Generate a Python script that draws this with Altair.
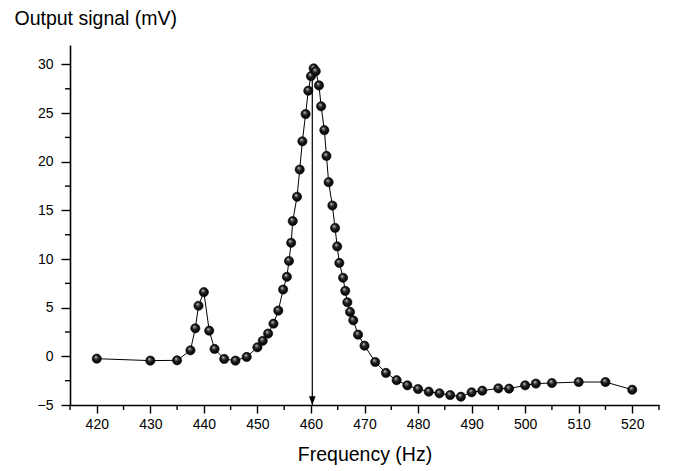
import altair as alt
import pandas as pd

freq = [420, 430, 435, 437.5, 438.4, 439, 440, 441, 442, 443.8,
        445.9, 448, 450, 451, 452, 453, 453.9, 454.8, 455.5, 455.9,
        456.3, 456.6, 457.4, 457.9, 458.4, 459, 459.5, 460, 460.5, 460.9,
        461.5, 461.9, 462.5, 462.9, 463.3, 464, 464.5, 464.9, 465.3, 466,
        466.4, 466.8, 467.3, 467.9, 468.8, 470, 472, 474, 476, 478,
        480, 482, 484, 486, 488, 490, 492, 495, 497, 500,
        502, 505, 510, 515, 520]
signal = [-0.24, -0.44, -0.41, 0.62, 2.88, 5.2, 6.6, 2.64, 0.76, -0.27,
          -0.44, -0.06, 0.93, 1.6, 2.34, 3.36, 4.7, 6.86, 8.17, 9.8,
          11.67, 13.9, 16.4, 19.2, 22.1, 24.9, 27.3, 28.8, 29.6, 29.3,
          27.85, 25.7, 23.25, 20.6, 17.9, 15.5, 13.2, 11.3, 9.6, 8.07,
          6.73, 5.56, 4.57, 3.7, 2.23, 1.1, -0.58, -1.7, -2.45, -2.98,
          -3.36, -3.63, -3.8, -3.98, -4.15, -3.7, -3.53, -3.29, -3.32, -2.98,
          -2.8, -2.74, -2.64, -2.64, -3.43]

arrow_x = [460.25]
arrow_top = [29.6]
arrow_bottom = [-5]

x_major = [420, 430, 440, 450, 460, 470, 480, 490, 500, 510, 520]
x_minor = [415, 425, 435, 445, 455, 465, 475, 485, 495, 505, 515, 525]
y_major = [-5, 0, 5, 10, 15, 20, 25, 30]
y_minor = [-2.5, 2.5, 7.5, 12.5, 17.5, 22.5, 27.5]

x_min, x_max = 415, 525
y_min, y_max = -5, 32

df = pd.DataFrame({"f": freq, "s": signal})
arrow_df = pd.DataFrame({"x": arrow_x, "y": arrow_top, "y2": arrow_bottom})
xminor_df = pd.DataFrame({"f": x_minor})
yminor_df = pd.DataFrame({"s": y_minor})

FONT = "Liberation Sans"

x_scale = alt.Scale(domain=[x_min, x_max], nice=False, zero=False)
y_scale = alt.Scale(domain=[y_min, y_max], nice=False, zero=False)

x_axis = alt.Axis(
    values=x_major,
    labelOverlap=False,
    tickSize=8,
    labelPadding=4,
    title="Frequency (Hz)",
    titleY=55, titleBaseline="alphabetic",
    grid=False,
)
y_axis = alt.Axis(
    values=y_major,
    labelOverlap=False,
    tickSize=9,
    labelPadding=8,
    title="Output signal (mV)",
    titleAngle=0, titleX=-56, titleY=-21,
    titleAlign="left", titleBaseline="alphabetic",
    grid=False,
)

x_enc = alt.X("f:Q", scale=x_scale, axis=x_axis)
y_enc = alt.Y("s:Q", scale=y_scale, axis=y_axis)

line = alt.Chart(df).mark_line(color="black", strokeWidth=1).encode(x=x_enc, y=y_enc)

# minor ticks, drawn through the scales just outside the axis lines
x_minor_ticks = alt.Chart(xminor_df).mark_rule(
    color="black", strokeWidth=1.4, clip=False, y2Offset=5
).encode(
    x=alt.X("f:Q", scale=x_scale),
    y=alt.datum(y_min, scale=y_scale),
    y2=alt.datum(y_min),
)
y_minor_ticks = alt.Chart(yminor_df).mark_rule(
    color="black", strokeWidth=1.4, clip=False, x2Offset=-5
).encode(
    y=alt.Y("s:Q", scale=y_scale),
    x=alt.datum(x_min, scale=x_scale),
    x2=alt.datum(x_min),
)

sphere_fill = alt.RadialGradient(
    gradient="radial",
    x1=0.38, y1=0.3, r1=0.0,
    x2=0.5, y2=0.5, r2=0.55,
    stops=[
        alt.GradientStop(offset=0.0, color="#f4f4f4"),
        alt.GradientStop(offset=0.22, color="#6a6a6a"),
        alt.GradientStop(offset=0.5, color="#1a1a1a"),
        alt.GradientStop(offset=1.0, color="#000000"),
    ],
)

points = alt.Chart(df).mark_point(
    shape="circle", filled=True, fill=sphere_fill, fillOpacity=1,
    stroke="#000000", strokeWidth=0.6, size=85, opacity=1,
).encode(x=alt.X("f:Q", scale=x_scale), y=alt.Y("s:Q", scale=y_scale))

rule = alt.Chart(arrow_df).mark_rule(color="black", strokeWidth=1.2).encode(
    x=alt.X("x:Q", scale=x_scale), y=alt.Y("y:Q", scale=y_scale), y2="y2:Q"
)
head = alt.Chart(arrow_df).mark_point(
    shape="M0,0 L-0.38,-1 L0.38,-1 Z", filled=True, color="black", size=300, opacity=1,
).encode(x=alt.X("x:Q", scale=x_scale), y=alt.Y("y2:Q", scale=y_scale))

chart = alt.layer(line, x_minor_ticks, y_minor_ticks, rule, points, head).properties(
    width=589, height=360,
    autosize=alt.AutoSizeParams(type="none"),
    padding={"left": 62, "top": 37, "right": 15, "bottom": 60},
).configure_view(stroke=None).configure_axis(
    domainColor="black", domainWidth=1.6,
    tickColor="black", tickWidth=1.4,
    labelFont=FONT, labelFontSize=14, labelColor="black",
    titleFont=FONT, titleFontSize=19.5, titleFontWeight="normal", titleColor="black",
)

chart.save("out.html", embed_options={"renderer": "svg", "actions": False})
